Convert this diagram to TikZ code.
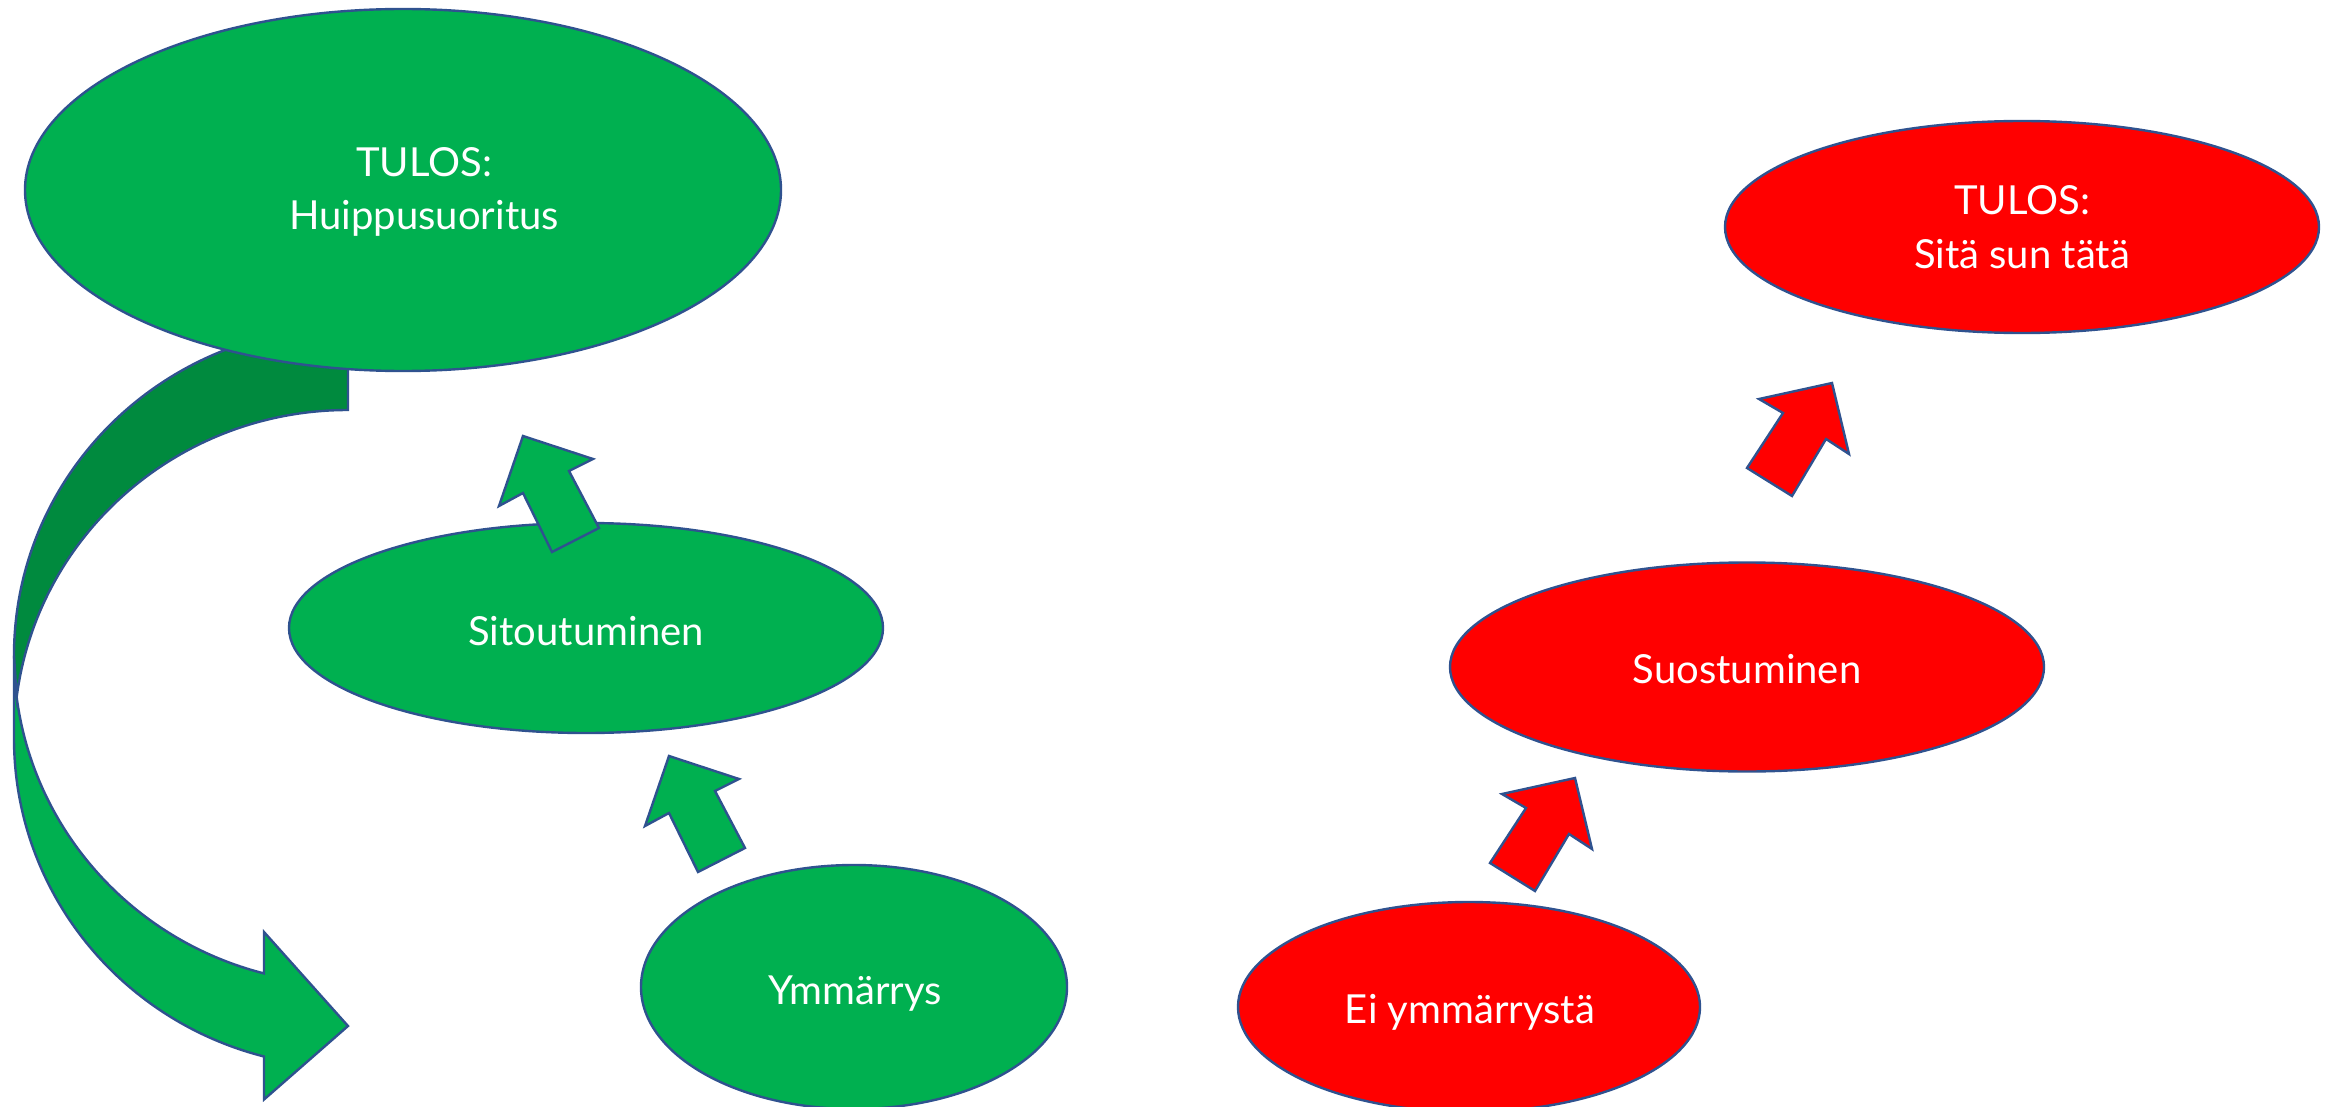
\documentclass[tikz,border=0pt]{standalone}
\usepackage{fontspec}
\setmainfont{Lato}
\usetikzlibrary{shapes.geometric}
\definecolor{pgreen}{HTML}{00B050}
\definecolor{dgreen}{HTML}{008A3E}
\definecolor{pred}{HTML}{FF0000}
\definecolor{olblue}{HTML}{2F528F}
\begin{document}
\begin{tikzpicture}[x=1pt,y=1pt,
  outl/.style={draw=olblue, line width=2.4pt, line join=miter},
  gshape/.style={outl, fill=pgreen},
  rshape/.style={outl, fill=pred},
  ell/.style={ellipse, outl, inner sep=0pt, outer sep=0pt},
  gell/.style={ell, fill=pgreen},
  rell/.style={ell, fill=pred},
  lab/.style={text=white, font=\fontsize{40}{53}\selectfont, inner sep=0pt, anchor=base}]
\useasboundingbox (0,0) rectangle (2331,-1107);

% curved return arrow (light lower band, then dark upper band)
\draw[gshape] (14,-655.5) arc[start angle=180, end angle=255.43, x radius=334, y radius=328.5]
  -- (264,-932) -- (348,-1026) -- (264,-1099.5) -- (264,-1056.5)
  arc[start angle=255.43, end angle=180, x radius=334, y radius=328.5] -- cycle;
\draw[outl, fill=dgreen] (14,-655.5) arc[start angle=180, end angle=90, x radius=334, y radius=328.5]
  -- (348,-410) arc[start angle=90, end angle=172.7, x radius=334, y radius=328.5] -- cycle;

% ellipses
\node[gell, minimum width=756pt, minimum height=362pt] (e1) at (403,-190) {};
\node[gell, minimum width=594pt, minimum height=210pt] (e2) at (586,-628) {};
\node[gell, minimum width=426pt, minimum height=244pt] (e3) at (854,-987) {};
\node[rell, minimum width=594pt, minimum height=212pt] (e4) at (2022,-227) {};
\node[rell, minimum width=594pt, minimum height=209pt] (e5) at (1747,-667) {};
\node[rell, minimum width=462pt, minimum height=210pt] (e6) at (1469,-1007) {};

% labels
\node[lab] (t1a) at (424,-177) {TULOS:};
\node[lab] (t1b) at (424,-230) {Huippusuoritus};
\node[lab] (t2) at (586,-645) {Sitoutuminen};
\node[lab] (t3) at (855,-1004) {Ymmärrys};
\node[lab] (t4a) at (2022,-215) {TULOS:};
\node[lab] (t4b) at (2022,-269) {Sitä sun tätä};
\node[lab] (t5) at (1747,-683) {Suostuminen};
\node[lab] (t6) at (1470,-1023) {Ei ymmärrystä};

% block arrows (tips)
\coordinate (g1) at (523,-436);
\coordinate (g2) at (669,-756);
\coordinate (r1) at (1832,-383);
\coordinate (r2) at (1575,-778);
\foreach \t in {g1,g2}{
  \draw[gshape] (\t) -- +(70,-23) -- +(46,-35) -- +(76,-92) -- +(29,-116) -- +(0,-57) -- +(-24,-70) -- cycle;
}
\foreach \t in {r1,r2}{
  \draw[rshape] (\t) -- +(17,-71) -- +(-6,-56) -- +(-40,-113) -- +(-85,-85) -- +(-49,-30) -- +(-73,-16) -- cycle;
}
\end{tikzpicture}
\end{document}
